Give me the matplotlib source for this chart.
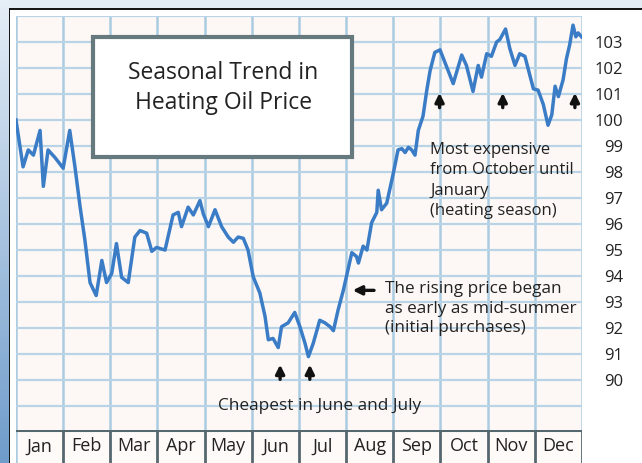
import matplotlib.pyplot as plt
import numpy as np
from matplotlib.patches import Rectangle
from matplotlib.colors import LinearSegmentedColormap

plt.rcParams['font.family'] = ['Open Sans', 'DejaVu Sans']

# price, x in months from start of January
month_pos = [0.0, 0.15, 0.26, 0.37, 0.51, 0.58, 0.68, 0.83, 1.00, 1.14,
             1.25, 1.36, 1.46, 1.57, 1.70, 1.82, 1.92, 2.03, 2.13, 2.24,
             2.38, 2.52, 2.63, 2.77, 2.88, 2.98, 3.16, 3.33, 3.44, 3.51,
             3.65, 3.76, 3.90, 3.97, 4.08, 4.22, 4.36, 4.50, 4.61, 4.71,
             4.82, 4.92, 5.03, 5.17, 5.28, 5.35, 5.45, 5.56, 5.63, 5.77,
             5.91, 6.02, 6.13, 6.20, 6.30, 6.44, 6.55, 6.66, 6.73, 6.83,
             6.94, 7.04, 7.12, 7.22, 7.26, 7.36, 7.44, 7.54, 7.65, 7.68,
             7.75, 7.86, 8.00, 8.10, 8.18, 8.25, 8.32, 8.39, 8.46, 8.53,
             8.63, 8.71, 8.78, 8.88, 8.99, 9.13, 9.27, 9.45, 9.55, 9.69,
             9.80, 9.87, 9.98, 10.08, 10.19, 10.26, 10.38, 10.47, 10.58, 10.68,
             10.79, 10.97, 11.07, 11.18, 11.28, 11.36, 11.43, 11.50, 11.60, 11.67,
             11.74, 11.81, 11.87, 11.92, 11.99]
price = [100.0, 98.2, 98.85, 98.65, 99.6, 97.45, 98.85, 98.55, 98.15, 99.6,
         98.2, 96.65, 95.4, 93.75, 93.25, 94.6, 93.75, 94.1, 95.25, 93.95,
         93.75, 95.5, 95.75, 95.65, 94.95, 95.1, 95.0, 96.35, 96.45, 95.9,
         96.65, 96.35, 96.9, 96.4, 95.9, 96.55, 95.9, 95.5, 95.3, 95.5,
         95.45, 95.0, 93.97, 93.35, 92.45, 91.55, 91.6, 91.25, 92.05, 92.2,
         92.6, 92.05, 91.4, 90.9, 91.4, 92.3, 92.2, 92.05, 91.9, 92.7,
         93.45, 94.25, 94.9, 94.75, 94.5, 95.15, 95.0, 96.05, 96.45, 97.3,
         96.55, 96.8, 97.95, 98.85, 98.9, 98.75, 98.95, 98.85, 98.65, 99.6,
         100.15, 101.15, 101.9, 102.6, 102.7, 102.05, 101.4, 102.5, 102.1, 101.1,
         102.1, 101.65, 102.55, 102.45, 103.0, 103.1, 103.5, 102.75, 102.1, 102.55,
         102.45, 101.2, 101.15, 100.6, 99.8, 100.2, 101.3, 100.9, 101.55, 102.35,
         102.9, 103.65, 103.2, 103.35, 103.2]

months = ['Jan', 'Feb', 'Mar', 'Apr', 'May', 'Jun', 'Jul', 'Aug', 'Sep', 'Oct', 'Nov', 'Dec']
price_ticks = list(range(90, 104))

# arrow tips (month, price)
cheap_arrows = [(5.60, 90.7), (6.23, 90.7)]
peak_arrows = [(8.98, 101.15), (10.32, 101.15), (11.85, 101.15)]

fig = plt.figure(figsize=(6.42, 4.63), dpi=100)
fig.patch.set_facecolor('#e3ecf5')

# left blue strip
strip = fig.add_axes([0, 0, 0.014, 1])
grad = np.linspace(0, 1, 256).reshape(-1, 1)
cmap = LinearSegmentedColormap.from_list('strip', ['#6f9ccb', '#a9c4e0', '#e6eef7'])
strip.imshow(grad, aspect='auto', cmap=cmap, origin='lower', extent=[0, 1, 0, 1])
strip.axis('off')

# white panel with black frame
fig.add_artist(Rectangle((0.014, -0.01), 1.0, 0.9906, transform=fig.transFigure,
                         facecolor='white', edgecolor='#111111', lw=1.4, zorder=0))

ax = fig.add_axes([0.0249, 0.0713, 0.8816, 0.8941])
ax.set_facecolor('#fdf8f5')
ax.set_xlim(0, 12)
ax.set_ylim(88.08, 104.0)
for m in range(13):
    ax.axvline(m, color='#aacbe0', lw=1.8, zorder=1)
for p in range(89, 105):
    ax.axhline(p, color='#b8d4e6', lw=1.6, zorder=1)

ax.plot(month_pos, price, color='#3b7cc6', lw=2.5, zorder=3, solid_joinstyle='round')

ax.set_xticks([])
ax.yaxis.tick_right()
ax.set_yticks(price_ticks)
ax.set_yticklabels([str(p) for p in price_ticks], fontsize=12, color='#222222', ha='right')
ax.tick_params(axis='y', length=0, pad=29.5)
for s in ax.spines.values():
    s.set_visible(False)

# title box
ax.add_patch(Rectangle((0.136, 0.659), 0.458, 0.29, transform=ax.transAxes,
                       facecolor='white', edgecolor='#66797f', lw=3, zorder=4))
ax.text(0.366, 0.826, 'Seasonal Trend in\nHeating Oil Price', transform=ax.transAxes,
        ha='center', va='center', fontsize=16.5, color='#222222', linespacing=1.3, zorder=5)

# annotations
aprops = dict(arrowstyle='-|>', color='#111111', lw=2.4, mutation_scale=13)
for x, y in cheap_arrows:
    ax.annotate('', xy=(x, y), xytext=(x, y - 0.78), arrowprops=aprops, zorder=5)
for x, y in peak_arrows:
    ax.annotate('', xy=(x, y), xytext=(x, y - 0.78), arrowprops=aprops, zorder=5)
ax.annotate('', xy=(7.08, 93.45), xytext=(7.65, 93.45), arrowprops=aprops, zorder=5)

ax.text(6.44, 89.0, 'Cheapest in June and July', ha='center', va='center',
        fontsize=12.4, color='#222222')
ax.text(7.82, 93.8, 'The rising price began\nas early as mid-summer\n(initial purchases)',
        ha='left', va='top', fontsize=12.3, color='#222222', linespacing=1.3)
ax.text(8.78, 99.15, 'Most expensive\nfrom October until\nJanuary\n(heating season)',
        ha='left', va='top', fontsize=12, color='#222222', linespacing=1.35)

# month band
band = fig.add_axes([0.0249, 0.0, 0.8816, 0.0713])
band.set_facecolor('#fdfaf8')
band.set_xlim(0, 12)
band.set_ylim(0, 1)
band.axvline(0, color='#aacbe0', lw=1.8)
for m in range(1, 13):
    band.axvline(m, color='#56686f', lw=2)
band.axhline(1, color='#56686f', lw=2.2)
for i, name in enumerate(months):
    band.text(i + 0.5, 0.5, name, ha='center', va='center', fontsize=13, color='#222222')
band.set_xticks([])
band.set_yticks([])
for s in band.spines.values():
    s.set_visible(False)

fig.savefig('out.png', dpi=100, facecolor=fig.get_facecolor())
